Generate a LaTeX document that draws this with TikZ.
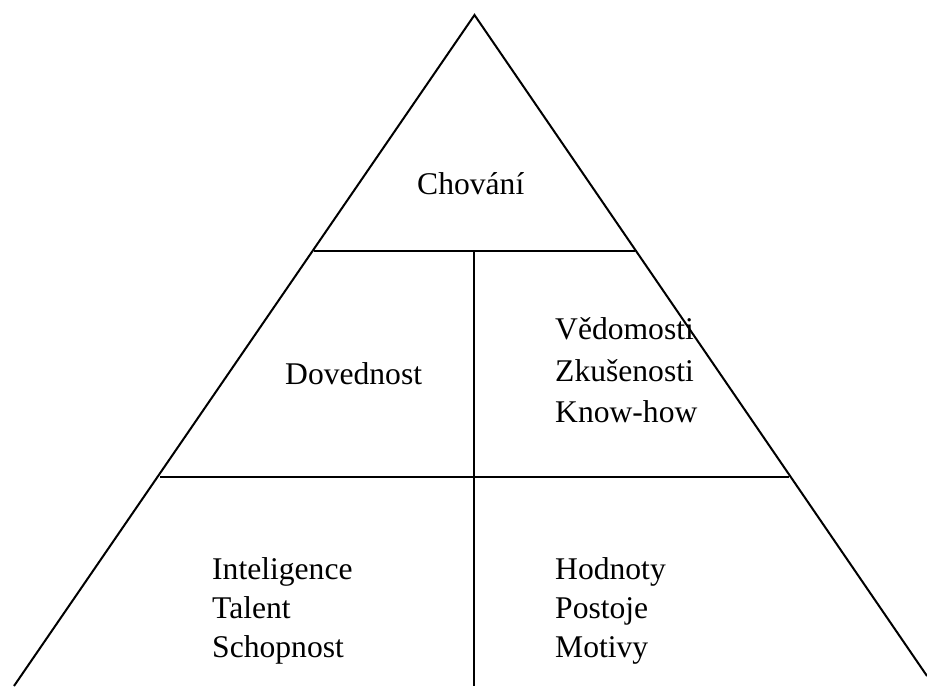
\documentclass[tikz,border=0pt]{standalone}
\usepackage{fontspec}
\setmainfont{Liberation Serif}
\begin{document}
\begin{tikzpicture}[x=1pt,y=-1pt,
  edge/.style={line width=2pt,black},
  lbl/.style={inner sep=0pt,anchor=base west,font=\fontsize{31.6}{40}\selectfont}]
\useasboundingbox (0,0) rectangle (927,686);
\coordinate (A) at (474.5,15);
\coordinate (BL) at (14,686);
\coordinate (BR) at (927,676);
\coordinate (L1) at (313.5,251);
\coordinate (R1) at (634.5,251);
\coordinate (L2) at (159.5,477);
\coordinate (R2) at (789,477);
\coordinate (VT) at (474,251);
\coordinate (VB) at (474,686);
\draw[edge] (BL) -- (A) -- (BR);
\draw[edge] (L1) -- (R1);
\draw[edge] (L2) -- (R2);
\draw[edge] (VT) -- (VB);
\node[lbl] (chov) at (417,194) {Chování};
\node[lbl] (dov) at (285,384) {Dovednost};
\node[lbl] (ved) at (555,339) {Vědomosti};
\node[lbl] (zku) at (555,381) {Zkušenosti};
\node[lbl] (know) at (555,422) {Know-how};
\node[lbl] (int) at (212,579) {Inteligence};
\node[lbl] (tal) at (212,618) {Talent};
\node[lbl] (sch) at (212,657) {Schopnost};
\node[lbl] (hod) at (555,579) {Hodnoty};
\node[lbl] (pos) at (555,618) {Postoje};
\node[lbl] (mot) at (555,657) {Motivy};
\end{tikzpicture}
\end{document}
